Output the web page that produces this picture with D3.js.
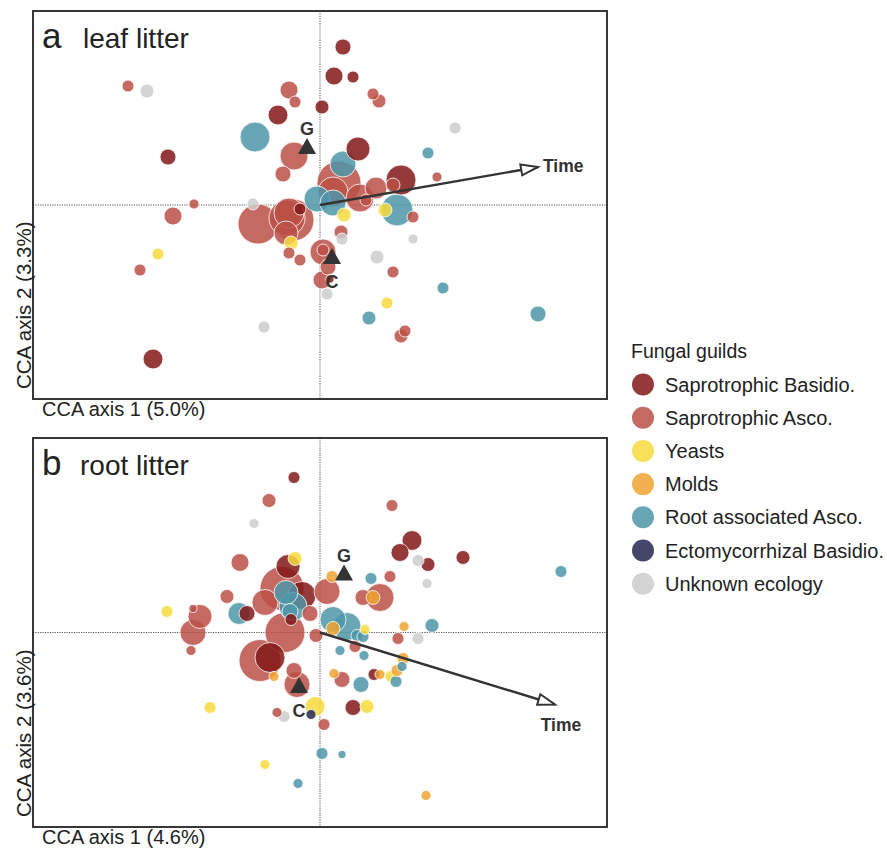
<!DOCTYPE html>
<html>
<head>
<meta charset="utf-8">
<script src="https://cdn.jsdelivr.net/npm/d3@7"></script>
<style>
  body { margin: 0; background: #fff; }
  text { font-family: "Liberation Sans", Arial, sans-serif; fill: #222; }
</style>
</head>
<body>
<div id="chart"></div>
<script>
const width = 887,
  height = 849;

// guild codes, legend labels and colours (fill-opacity 0.85 on white)
const guildCodes = ["SB", "SA", "Y", "M", "RA", "EB", "U"];
const guildLabels = [
  "Saprotrophic Basidio.",
  "Saprotrophic Asco.",
  "Yeasts",
  "Molds",
  "Root associated Asco.",
  "Ectomycorrhizal Basidio.",
  "Unknown ecology",
];
const guildColors = ["#811717", "#bb5047", "#f7db3d", "#f0a331", "#4d96a9", "#242750", "#cccccc"];

// [guild, CCA1, CCA2, relative abundance %]
const leafPoints = [
  ["SA", -1.92, 1.19, 0.4], ["U", -1.73, 1.14, 0.54], ["SB", 0.23, 1.58, 0.71],
  ["SB", 0.14, 1.29, 0.9], ["SB", 0.33, 1.28, 0.4], ["SA", -0.31, 1.15, 0.9],
  ["SA", -0.25, 1.03, 0.4], ["SB", -0.42, 0.9, 1.1], ["SB", 0.02, 0.98, 0.54],
  ["SA", 0.53, 1.11, 0.4], ["SA", 0.59, 1.04, 0.54], ["RA", -0.65, 0.68, 2.5],
  ["SB", -1.52, 0.48, 0.71], ["SA", -0.26, 0.49, 2.18], ["SA", -0.37, 0.31, 0.71],
  ["SB", 0.38, 0.56, 1.6], ["RA", 0.23, 0.41, 1.88], ["RA", 1.08, 0.52, 0.4],
  ["SA", 1.17, 0.28, 0.28], ["SB", 0.81, 0.25, 2.5], ["SA", 0.19, 0.22, 5.38],
  ["SA", 0.13, 0.13, 2.5], ["SA", 0.4, 0.07, 2.18], ["SA", 0.56, 0.17, 1.34],
  ["SA", 0.73, 0.2, 0.54], ["SA", 0.46, 0.05, 0.4], ["RA", -0.03, 0.06, 1.88],
  ["RA", 0.13, 0.02, 1.88], ["RA", 0.77, -0.05, 2.84], ["Y", 0.65, -0.05, 0.54],
  ["SA", 0.93, -0.12, 0.4], ["Y", 0.24, -0.1, 0.54], ["U", 0.93, -0.34, 0.28],
  ["U", -0.67, 0.01, 0.4], ["SA", -0.62, -0.19, 4.44], ["SA", -0.33, -0.13, 3.6],
  ["SA", -0.27, -0.15, 4.9], ["SA", -0.31, -0.08, 2.5], ["SA", -0.34, -0.28, 1.6],
  ["SB", -0.2, -0.04, 0.4], ["Y", -0.29, -0.38, 0.54], ["SA", -0.31, -0.48, 0.4],
  ["SA", -0.2, -0.55, 0.4], ["SA", 0.21, -0.27, 0.54], ["U", 0.22, -0.34, 0.4],
  ["SA", 0.03, -0.47, 1.88], ["SA", 0.03, -0.45, 0.4], ["SA", 0.08, -0.62, 0.71],
  ["SA", 0.02, -0.75, 0.9], ["SB", 0.1, -0.74, 0.18], ["U", 0.07, -0.89, 0.4],
  ["U", 0.57, -0.52, 0.54], ["SA", 0.73, -0.67, 0.4], ["SA", -1.26, 0.01, 0.28],
  ["SA", -1.47, -0.11, 0.9], ["Y", -1.62, -0.49, 0.4], ["SA", -1.8, -0.65, 0.4],
  ["RA", 1.23, -0.83, 0.4], ["Y", 0.67, -0.98, 0.4], ["RA", 0.49, -1.13, 0.54],
  ["SA", 0.85, -1.26, 0.4], ["SA", 0.81, -1.31, 0.54], ["U", -0.56, -1.22, 0.4],
  ["SB", -1.67, -1.54, 1.1], ["RA", 2.18, -1.09, 0.71], ["U", 1.35, 0.77, 0.4],
];

const rootPoints = [
  ["SB", -0.26, 1.55, 0.4], ["SA", -0.51, 1.32, 0.54], ["U", -0.66, 1.09, 0.28],
  ["SA", 0.72, 1.27, 0.4], ["SB", 0.92, 0.92, 1.1], ["SB", 0.8, 0.8, 0.9],
  ["U", 0.98, 0.72, 0.4], ["SB", 1.08, 0.68, 0.54], ["U", 1.07, 0.49, 0.28],
  ["SB", 1.43, 0.75, 0.54], ["RA", 2.41, 0.61, 0.4], ["SA", -0.8, 0.7, 0.9],
  ["Y", -0.25, 0.74, 0.54], ["SB", -0.32, 0.66, 1.6], ["SA", -0.38, 0.44, 5.38],
  ["RA", -0.34, 0.4, 1.6], ["SB", -0.18, 0.37, 2.18], ["RA", -0.27, 0.26, 2.18],
  ["RA", -0.3, 0.21, 0.71], ["SB", -0.29, 0.13, 0.4], ["SA", -0.1, 0.19, 0.71],
  ["SA", -0.93, 0.36, 0.54], ["RA", -0.81, 0.19, 1.34], ["SB", -0.73, 0.19, 0.71],
  ["SA", -1.2, 0.16, 1.6], ["SA", -1.27, 0.24, 0.18], ["SA", -1.27, 0.0, 1.88],
  ["SA", -1.29, -0.18, 0.28], ["Y", -1.53, 0.21, 0.4], ["SA", -0.55, 0.3, 1.88],
  ["SA", -0.35, 0.0, 4.44], ["SA", -0.6, -0.28, 4.9], ["SB", -0.5, -0.25, 2.5],
  ["M", -0.46, -0.44, 0.28], ["SA", -0.26, -0.38, 0.71], ["SA", -0.23, -0.52, 1.88],
  ["SA", -0.04, -0.03, 0.54], ["SA", 0.07, 0.41, 1.88], ["M", 0.12, 0.56, 0.4],
  ["RA", 0.13, 0.13, 1.88], ["RA", 0.27, 0.06, 2.18], ["M", 0.13, 0.04, 0.54],
  ["RA", 0.37, -0.03, 0.4], ["RA", 0.43, -0.04, 0.4], ["Y", 0.45, 0.03, 0.28],
  ["RA", 0.2, -0.18, 0.28], ["SA", 0.35, -0.14, 0.4], ["RA", 0.44, -0.23, 0.28],
  ["RA", 0.51, 0.54, 0.4], ["SA", 0.7, 0.56, 0.4], ["SA", 0.6, 0.35, 2.18],
  ["M", 0.53, 0.35, 0.54], ["SA", 0.43, 0.35, 0.71], ["M", 0.84, 0.06, 0.28],
  ["U", 0.98, -0.06, 0.4], ["SA", 0.78, -0.06, 0.4], ["RA", 1.12, 0.07, 0.54],
  ["M", 0.14, -0.41, 0.28], ["SA", 0.22, -0.47, 0.71], ["RA", 0.41, -0.52, 0.71],
  ["SB", 0.54, -0.42, 0.4], ["M", 0.6, -0.42, 0.28], ["Y", 0.71, -0.44, 0.4],
  ["RA", 0.76, -0.49, 0.4], ["M", 0.77, -0.38, 0.4], ["RA", 0.82, -0.34, 0.28],
  ["M", 0.83, -0.26, 0.4], ["Y", -1.1, -0.75, 0.4], ["Y", -0.05, -0.74, 1.1],
  ["EB", -0.09, -0.82, 0.28], ["U", -0.36, -0.84, 0.4], ["SA", -0.43, -0.8, 0.28],
  ["SA", 0.04, -0.92, 0.4], ["SB", 0.33, -0.75, 0.71], ["Y", 0.47, -0.74, 0.54],
  ["RA", 0.02, -1.21, 0.4], ["RA", 0.22, -1.22, 0.18], ["Y", -0.55, -1.32, 0.28],
  ["RA", -0.22, -1.51, 0.28], ["M", 1.06, -1.63, 0.28],
];

// treatment centroids [label, CCA1, CCA2] and Time vectors [CCA1, CCA2]
const leafCentroids = [["G", -0.13, 0.59], ["C", 0.12, -0.51]];
const rootCentroids = [["G", 0.24, 0.6], ["C", -0.21, -0.525]];
const leafTime = [2.18, 0.38];
const rootTime = [2.35, -0.72];

const color = d3.scaleOrdinal().domain(guildCodes).range(guildColors);
const radius = d3.scaleSqrt().domain([0, 10]).range([0, 30]);

const svg = d3
  .select("#chart")
  .append("svg")
  .attr("width", width)
  .attr("height", height);

svg
  .append("defs")
  .append("marker")
  .attr("id", "arrow")
  .attr("markerUnits", "userSpaceOnUse")
  .attr("viewBox", "-2 -8 22 16")
  .attr("markerWidth", 22)
  .attr("markerHeight", 16)
  .attr("refX", 17)
  .attr("refY", 0)
  .attr("orient", "auto")
  .append("path")
  .attr("d", "M0,-5.5L17,0L0,5.5Z")
  .attr("fill", "#fff")
  .attr("stroke", "#333")
  .attr("stroke-width", 2);

function panel(opts) {
  const x = d3.scaleLinear().domain([-2.87, 2.87]).range([33, 607]);
  const y = d3.scaleLinear().domain(opts.yDomain).range([opts.bottom, opts.top]);
  const g = svg.append("g");

  // zero lines
  g.append("line")
    .attr("x1", x(-2.87)).attr("x2", x(2.87))
    .attr("y1", y(0)).attr("y2", y(0))
    .attr("stroke", "#555").attr("stroke-width", 1)
    .attr("stroke-dasharray", "1.2,1.2");
  g.append("line")
    .attr("x1", x(0)).attr("x2", x(0))
    .attr("y1", opts.top).attr("y2", opts.bottom)
    .attr("stroke", "#555").attr("stroke-width", 1)
    .attr("stroke-dasharray", "1.2,1.2");

  const pts = opts.points.slice().sort((a, b) => b[3] - a[3]);
  g.selectAll(".point")
    .data(pts)
    .enter()
    .append("circle")
    .attr("class", "point")
    .attr("cx", (d) => x(d[1]))
    .attr("cy", (d) => y(d[2]))
    .attr("r", (d) => radius(d[3]))
    .attr("fill", (d) => color(d[0]))
    .attr("fill-opacity", 0.85)
    .attr("stroke", "#fff")
    .attr("stroke-width", 0.8);

  // Time vector
  g.append("line")
    .attr("x1", x(0)).attr("y1", y(0))
    .attr("x2", x(opts.time[0])).attr("y2", y(opts.time[1]))
    .attr("stroke", "#333").attr("stroke-width", 2.4)
    .attr("marker-end", "url(#arrow)");
  g.append("text")
    .attr("x", x(opts.time[0]) + opts.timeLabel[0])
    .attr("y", y(opts.time[1]) + opts.timeLabel[1])
    .attr("text-anchor", opts.timeLabel[2])
    .attr("font-size", 17.5)
    .attr("font-weight", "bold")
    .style("fill", "#333")
    .text("Time");

  // centroids
  const c = g.selectAll(".centroid").data(opts.centroids).enter().append("g");
  c.append("path")
    .attr("d", (d) => {
      const cx = x(d[1]), cy = y(d[2]);
      return `M${cx},${cy - 8}L${cx + 9},${cy + 8}L${cx - 9},${cy + 8}Z`;
    })
    .attr("fill", "#333");
  c.append("text")
    .attr("x", (d) => x(d[1]))
    .attr("y", (d) => y(d[2]) + (d[0] === "G" ? -11 : 32))
    .attr("text-anchor", "middle")
    .attr("font-size", 18)
    .attr("font-weight", "bold")
    .style("fill", "#333")
    .text((d) => d[0]);

  // frame
  g.append("rect")
    .attr("x", x(-2.87)).attr("y", opts.top)
    .attr("width", x(2.87) - x(-2.87))
    .attr("height", opts.bottom - opts.top)
    .attr("fill", "none").attr("stroke", "#222").attr("stroke-width", 1.8);

  // titles
  g.append("text")
    .attr("x", 42).attr("y", opts.top + 37)
    .attr("font-size", 35)
    .text(opts.letter);
  g.append("text")
    .attr("x", opts.titleX).attr("y", opts.top + 37)
    .attr("font-size", 28)
    .text(opts.title);

  g.append("text")
    .attr("x", 42).attr("y", opts.bottom + 17)
    .attr("font-size", 20)
    .text(opts.xLabel);
  g.append("text")
    .attr("transform", `translate(31,${opts.bottom - 10}) rotate(-90)`)
    .attr("font-size", 20.5)
    .text(opts.yLabel);
}

panel({
  top: 11, bottom: 399, yDomain: [-1.94, 1.94],
  points: leafPoints, centroids: leafCentroids, time: leafTime,
  timeLabel: [5, 5, "start"],
  letter: "a", title: "leaf litter", titleX: 83,
  xLabel: "CCA axis 1 (5.0%)", yLabel: "CCA axis 2 (3.3%)",
});

panel({
  top: 438, bottom: 827, yDomain: [-1.945, 1.945],
  points: rootPoints, centroids: rootCentroids, time: rootTime,
  timeLabel: [6, 26, "middle"],
  letter: "b", title: "root litter", titleX: 80,
  xLabel: "CCA axis 1 (4.6%)", yLabel: "CCA axis 2 (3.6%)",
});

// legend
const legend = svg.append("g").attr("transform", "translate(631,358)");
legend.append("text").attr("x", 0).attr("y", 0).attr("font-size", 19.5).text("Fungal guilds");
const item = legend
  .selectAll(".item")
  .data(guildCodes)
  .enter()
  .append("g")
  .attr("transform", (d, i) => `translate(0,${26.5 + i * 33.2})`);
item.append("circle")
  .attr("cx", 12).attr("cy", 0).attr("r", 11)
  .attr("fill", (d) => color(d))
  .attr("fill-opacity", 0.85);
item.append("text")
  .attr("x", 34).attr("y", 7)
  .attr("font-size", 20)
  .text((d, i) => guildLabels[i]);
</script>
</body>
</html>
